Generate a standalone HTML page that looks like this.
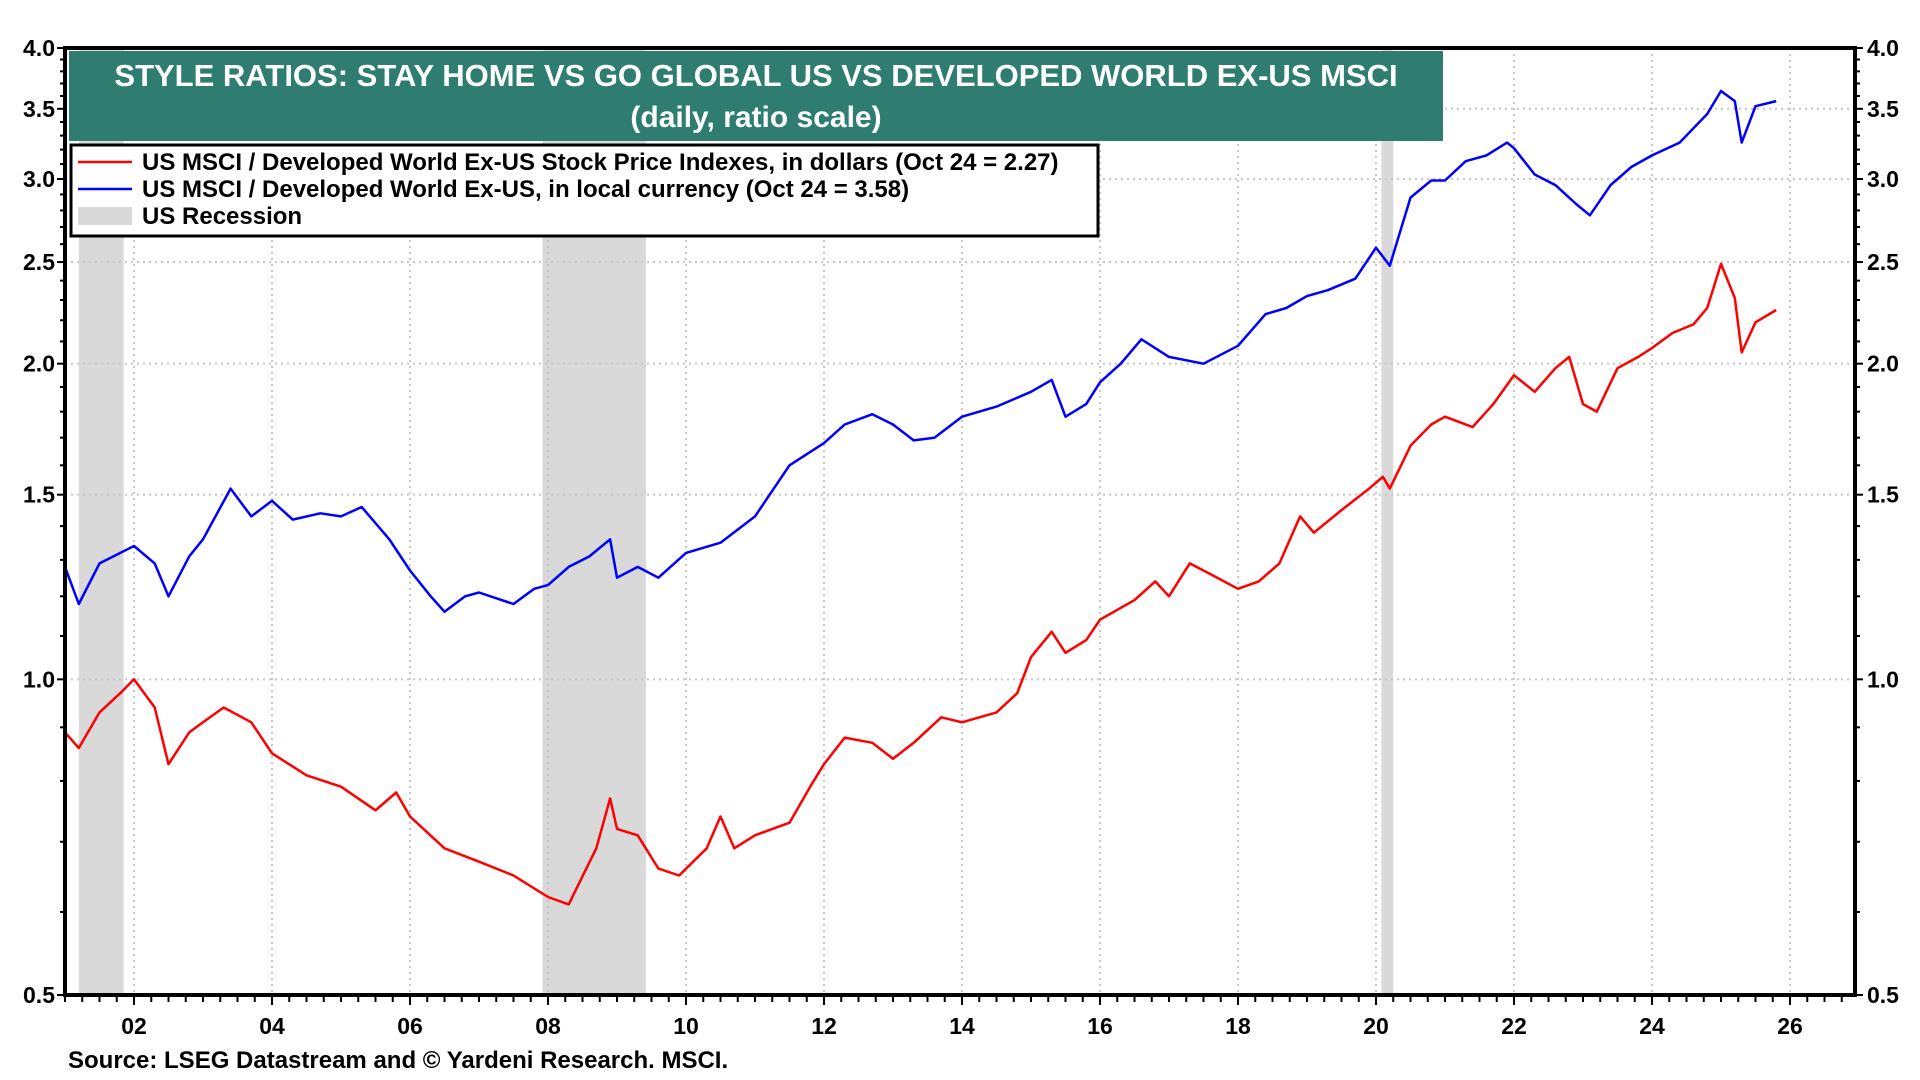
<!DOCTYPE html>
<html><head><meta charset="utf-8">
<style>
html,body{margin:0;padding:0;background:#fff;}
svg{display:block;font-family:"Liberation Sans",Arial,sans-serif;font-weight:bold;}
</style></head>
<body>
<svg id="chart" width="1920" height="1080" viewBox="0 0 1920 1080"></svg>
<script>
const years = [2001.0,2001.2,2001.5,2002.0,2002.3,2002.5,2002.8,2003.0,2003.4,2003.7,2004.0,2004.3,2004.7,2005.0,2005.3,2005.7,2006.0,2006.3,2006.5,2006.8,2007.0,2007.5,2007.8,2008.0,2008.3,2008.6,2008.9,2009.0,2009.3,2009.6,2010.0,2010.5,2011.0,2011.5,2012.0,2012.3,2012.7,2013.0,2013.3,2013.6,2014.0,2014.5,2015.0,2015.3,2015.5,2015.8,2016.0,2016.3,2016.6,2017.0,2017.5,2018.0,2018.4,2018.7,2019.0,2019.3,2019.7,2020.0,2020.2,2020.5,2020.8,2021.0,2021.3,2021.6,2021.9,2022.0,2022.3,2022.6,2022.9,2023.1,2023.4,2023.7,2024.0,2024.4,2024.8,2025.0,2025.2,2025.3,2025.5,2025.8];
const blueValues = [1.28,1.18,1.29,1.34,1.29,1.20,1.31,1.36,1.52,1.43,1.48,1.42,1.44,1.43,1.46,1.36,1.27,1.20,1.16,1.20,1.21,1.18,1.22,1.23,1.28,1.31,1.36,1.25,1.28,1.25,1.32,1.35,1.43,1.60,1.68,1.75,1.79,1.75,1.69,1.70,1.78,1.82,1.88,1.93,1.78,1.83,1.92,2.00,2.11,2.03,2.00,2.08,2.23,2.26,2.32,2.35,2.41,2.58,2.48,2.88,2.99,2.99,3.12,3.16,3.25,3.21,3.03,2.96,2.84,2.77,2.96,3.08,3.16,3.25,3.46,3.64,3.56,3.25,3.52,3.56];
const redYears = [2001.0,2001.2,2001.5,2001.8,2002.0,2002.3,2002.5,2002.8,2003.0,2003.3,2003.7,2004.0,2004.5,2005.0,2005.5,2005.8,2006.0,2006.5,2007.0,2007.5,2008.0,2008.3,2008.7,2008.9,2009.0,2009.3,2009.6,2009.9,2010.3,2010.5,2010.7,2011.0,2011.5,2011.8,2012.0,2012.3,2012.7,2013.0,2013.3,2013.7,2014.0,2014.5,2014.8,2015.0,2015.3,2015.5,2015.8,2016.0,2016.5,2016.8,2017.0,2017.3,2017.6,2018.0,2018.3,2018.6,2018.9,2019.1,2019.5,2019.9,2020.1,2020.2,2020.5,2020.8,2021.0,2021.4,2021.7,2022.0,2022.3,2022.6,2022.8,2023.0,2023.2,2023.5,2023.8,2024.0,2024.3,2024.6,2024.8,2025.0,2025.2,2025.3,2025.5,2025.8];
const redValues = [0.89,0.86,0.93,0.97,1.00,0.94,0.83,0.89,0.91,0.94,0.91,0.85,0.81,0.79,0.75,0.78,0.74,0.69,0.67,0.65,0.62,0.61,0.69,0.77,0.72,0.71,0.66,0.65,0.69,0.74,0.69,0.71,0.73,0.79,0.83,0.88,0.87,0.84,0.87,0.92,0.91,0.93,0.97,1.05,1.11,1.06,1.09,1.14,1.19,1.24,1.20,1.29,1.26,1.22,1.24,1.29,1.43,1.38,1.45,1.52,1.56,1.52,1.67,1.75,1.78,1.74,1.83,1.95,1.88,1.98,2.03,1.83,1.80,1.98,2.03,2.07,2.14,2.18,2.26,2.49,2.31,2.05,2.19,2.25];
const recessionStarts = [2001.2,2007.92,2020.08];
const recessionEnds = [2001.85,2009.42,2020.25];
const yTicks = [0.5,1.0,1.5,2.0,2.5,3.0,3.5,4.0];
const yTickLabels = ["0.5","1.0","1.5","2.0","2.5","3.0","3.5","4.0"];
const xTickYears = [2002,2004,2006,2008,2010,2012,2014,2016,2018,2020,2022,2024,2026];
const xTickLabels = ["02","04","06","08","10","12","14","16","18","20","22","24","26"];

const L=65,R=1855,T=48,B=995;
const X0=2001.0, PXY=69;
function xs(y){return L+(y-X0)*PXY;}
function ys(v){return T+Math.log(4/v)/Math.log(8)*(B-T);}
const NS="http://www.w3.org/2000/svg";
const svg=document.getElementById('chart');
function mk(tag,attrs,parent){const e=document.createElementNS(NS,tag);for(const k in attrs)e.setAttribute(k,attrs[k]);(parent||svg).appendChild(e);return e;}

recessionStarts.forEach((s,i)=>{
  const r=mk('rect',{x:xs(s),y:T,width:xs(recessionEnds[i])-xs(s),height:B-T,fill:'#d9d9d9'});
  
  
});
xTickYears.forEach(y=>{
  const g=mk('line',{x1:xs(y),x2:xs(y),y1:T,y2:B,stroke:'#c8c8c8','stroke-width':2,'stroke-dasharray':'2,4'});
  
  
});
yTicks.forEach(v=>{
  if(v===0.5||v===4.0)return;
  const g=mk('line',{x1:L,x2:R,y1:ys(v),y2:ys(v),stroke:'#c8c8c8','stroke-width':2,'stroke-dasharray':'2,4'});
  
  
});
function line(xa,va,color,name){
  const p=xa.map((y,i)=>xs(y).toFixed(1)+','+ys(va[i]).toFixed(1)).join(' ');
  const e=mk('polyline',{points:p,fill:'none',stroke:color,'stroke-width':2.5,'stroke-linejoin':'round'});
  
  
}
line(redYears,redValues,'#ff0000','red-series-dollars');
line(years,blueValues,'#0000ff','blue-series-local-currency');

const fr=mk('rect',{x:L,y:T,width:R-L,height:B-T,fill:'none',stroke:'#000','stroke-width':4});


for(let v=0.5;v<=4.001;v+=0.1){
  const major=Math.abs(v*2-Math.round(v*2))<1e-6;
  const len=major?8:5;
  mk('line',{x1:L-len,x2:L,y1:ys(v),y2:ys(v),stroke:'#000','stroke-width':2});
  mk('line',{x1:R,x2:R+len,y1:ys(v),y2:ys(v),stroke:'#000','stroke-width':2});
}
for(let q=0;q<=26*4;q++){
  const y=X0+q/4; if(xs(y)>R)break;
  const major=Math.abs(y-Math.round(y))<1e-6 && Math.round(y)%2===0;
  mk('line',{x1:xs(y),x2:xs(y),y1:B,y2:B+(major?10:7),stroke:'#000','stroke-width':2});
}
yTicks.forEach((v,i)=>{
  const a=mk('text',{x:L-10,y:ys(v)+8,'text-anchor':'end','font-size':23});
  a.textContent=yTickLabels[i];
  
  
  const b=mk('text',{x:R+12,y:ys(v)+8,'text-anchor':'start','font-size':23});
  b.textContent=yTickLabels[i];
  
  
});
xTickYears.forEach((y,i)=>{
  const t=mk('text',{x:xs(y),y:1034,'text-anchor':'middle','font-size':23});
  t.textContent=xTickLabels[i];
  
  
});
</script>
<svg style="position:absolute;left:0;top:0" width="1920" height="1080">
  <g>
    <rect x="69" y="51" width="1374" height="90" fill="#2e7d70"/>
    <text x="756" y="86" text-anchor="middle" font-size="31" fill="#fff">STYLE RATIOS: STAY HOME VS GO GLOBAL US VS DEVELOPED WORLD EX-US MSCI</text>
    <text x="756" y="127" text-anchor="middle" font-size="30" fill="#fff">(daily, ratio scale)</text>
  </g>
  <g>
    <rect x="71" y="145" width="1027" height="91" fill="#fff" stroke="#000" stroke-width="3"/>
    <line x1="78" x2="132" y1="162" y2="162" stroke="#ff0000" stroke-width="2.5"/>
    <text x="142" y="170" font-size="24">US MSCI / Developed World Ex-US Stock Price Indexes, in dollars (Oct 24 = 2.27)</text>
    <line x1="78" x2="132" y1="189" y2="189" stroke="#0000ff" stroke-width="2.5"/>
    <text x="142" y="197" font-size="24">US MSCI / Developed World Ex-US, in local currency (Oct 24 = 3.58)</text>
    <rect x="78" y="207" width="54" height="18" fill="#d9d9d9"/>
    <text x="142" y="224" font-size="24">US Recession</text>
  </g>
  <text x="68" y="1068" font-size="24">Source: LSEG Datastream and © Yardeni Research. MSCI.</text>
</svg>
</body></html>
